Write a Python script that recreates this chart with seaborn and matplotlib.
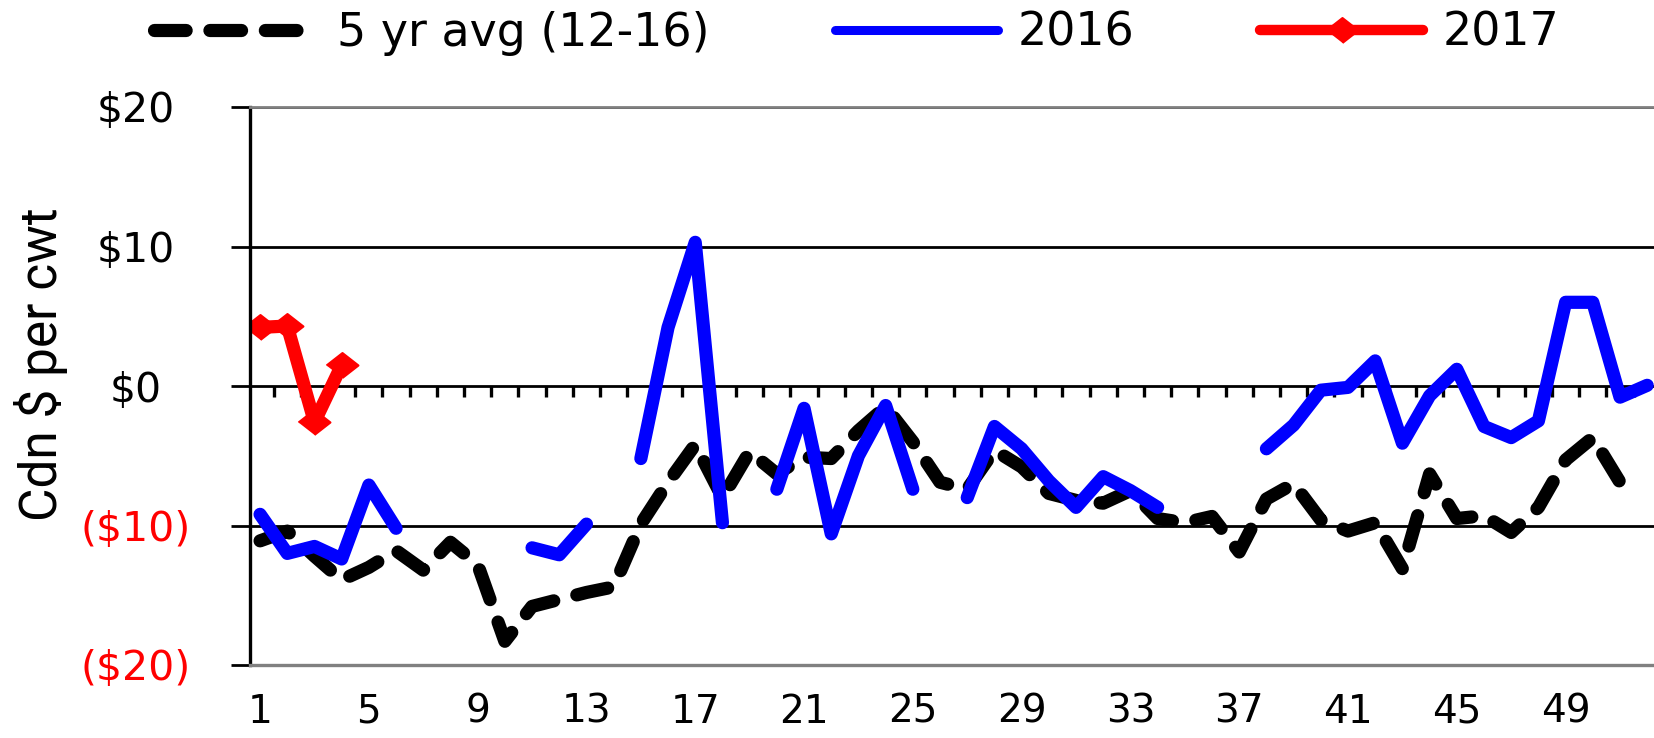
import numpy as np
import pandas as pd
import seaborn as sns
import matplotlib
matplotlib.use('Agg')
import matplotlib.pyplot as plt
from matplotlib.lines import Line2D

# weekly margin data, Cdn $ per cwt
weeks = list(range(1, 53))
avg_5yr = [-11.1, -10.4, -12.2, -13.9, -13.0, -11.8, -13.2, -11.2, -12.8, -18.3,
           -15.8, -15.3, -14.8, -14.4, -9.9, -6.9, -4.2, -8.0, -4.7, -6.3,
           -5.1, -5.2, -3.2, -1.5, -4.0, -6.9, -7.4, -4.6, -5.8, -7.7,
           -8.2, -8.4, -7.5, -9.5, -9.8, -9.35, -11.9, -8.1, -7.0, -9.6,
           -10.4, -9.8, -13.1, -6.3, -9.5, -9.3, -10.5, -8.7, -5.3, -3.7, -6.9]
y2016 = [-9.2, -12.0, -11.5, -12.4, -7.1, -10.2, np.nan, np.nan, np.nan, np.nan,
         -11.6, -12.1, -9.9, np.nan, -5.2, 4.2, 10.3, -9.8, np.nan, -7.4,
         -1.6, -10.6, -5.0, -1.4, -7.4, np.nan, -8.0, -2.9, -4.5, -6.8,
         -8.7, -6.5, -7.5, -8.7, np.nan, np.nan, np.nan, -4.5, -2.8, -0.3,
         -0.1, 1.8, -4.1, -0.7, 1.2, -2.9, -3.7, -2.5, 6.0, 6.0, -0.8, 0.05]
y2017 = [4.2, 4.3, -2.6, 1.5]

series_labels = ['5 yr avg (12-16)', '2016', '2017']
ytick_vals = [-20, -10, 0, 10, 20]
ytick_labels = [r'(\$20)', r'(\$10)', r'\$0', r'\$10', r'\$20']
ytick_colors = ['red', 'red', 'black', 'black', 'black']
xtick_vals = list(range(1, 50, 4))

sns.set_style('white')
plt.rcParams['font.family'] = ['DejaVu Sans']
plt.rcParams['text.color'] = 'black'
plt.rcParams['axes.labelcolor'] = 'black'
plt.rcParams['xtick.color'] = 'black'
plt.rcParams['ytick.color'] = 'black'

df_avg = pd.DataFrame({'week': weeks[:len(avg_5yr)], 'value': avg_5yr})
df16 = pd.DataFrame({'week': weeks, 'value': y2016})
df16['seg'] = df16['value'].isna().cumsum()
df16 = df16.dropna()
df17 = pd.DataFrame({'week': weeks[:len(y2017)], 'value': y2017})

diamond = [(-1, 0), (0, 0.78), (1, 0), (0, -0.78)]
LW = 9.5
DASH = [2.4, 1.8]

fig = plt.figure(figsize=(16.54, 7.38), dpi=100)
ax = fig.add_axes([250 / 1654, 1 - 665 / 738, 1404 / 1654, 558 / 738])

sns.lineplot(data=df_avg, x='week', y='value', color='black',
             estimator=None, legend=False, ax=ax)
avg_line = ax.lines[-1]
avg_line.set_linewidth(LW)
avg_line.set_dashes(DASH)
avg_line.set_dash_capstyle('round')
avg_line.set_dash_joinstyle('round')

n_before = len(ax.lines)
sns.lineplot(data=df16, x='week', y='value', units='seg', estimator=None,
             color='blue', legend=False, ax=ax)
for ln in ax.lines[n_before:]:
    ln.set_linewidth(LW)
    ln.set_solid_capstyle('round')
    ln.set_solid_joinstyle('round')

sns.lineplot(data=df17, x='week', y='value', color='red',
             estimator=None, legend=False, ax=ax)
red_line = ax.lines[-1]
red_line.set_linewidth(LW)
red_line.set_solid_capstyle('round')
red_line.set_solid_joinstyle('round')
red_line.set_marker(diamond)
red_line.set_markersize(23)
red_line.set_markerfacecolor('red')
red_line.set_markeredgecolor('red')
red_line.set_markeredgewidth(1.5)

ax.set_xlim(0.63, 52.25)
ax.set_ylim(-20, 20)
ax.set_xticks(xtick_vals)
ax.set_yticks(ytick_vals)
ax.set_yticklabels(ytick_labels)
for lbl, c in zip(ax.get_yticklabels(), ytick_colors):
    lbl.set_color(c)
    lbl.set_ha('center')

ax.set_axisbelow(True)
ax.grid(axis='y', color='black', lw=2.0)
ax.grid(axis='x', visible=False)

ax.spines['left'].set_color('black')
ax.spines['left'].set_linewidth(2.4)
ax.spines['bottom'].set_color('#808080')
ax.spines['bottom'].set_linewidth(2.4)
ax.spines['top'].set_color('#808080')
ax.spines['top'].set_linewidth(2.0)
ax.spines['right'].set_visible(False)

ax.tick_params(axis='y', left=True, length=14, width=2, color='black',
               direction='out', pad=68, labelsize=29.5)
ax.tick_params(axis='x', bottom=True, length=0, pad=20, labelsize=28,
               labelcolor='black')
ax.set_xlabel('')
ax.set_ylabel('Cdn $ per cwt', fontsize=37, va='center', color='black',
              family=['Roboto', 'DejaVu Sans'])
ax.yaxis.set_label_coords(-0.149, 0.539)

# small ticks hanging from the zero line
sec = ax.secondary_xaxis(0.5)
sec.set_alignment('top')
sec.set_xticks(np.arange(1.5, 52, 1))
sec.tick_params(axis='x', direction='in', length=8, width=2.4, color='black',
                labeltop=False, labelbottom=False)
for sp in sec.spines.values():
    sp.set_visible(False)

handles = [
    Line2D([], [], color='black', lw=LW, dashes=DASH, dash_capstyle='round'),
    Line2D([], [], color='blue', lw=6.5, solid_capstyle='round'),
    Line2D([], [], color='red', lw=7.5, solid_capstyle='round',
           marker=diamond, markersize=23, markeredgecolor='red', markeredgewidth=1.5),
]
fig.legend(handles, series_labels, loc='center', bbox_to_anchor=(0.518, 0.955),
           ncol=3, frameon=False, fontsize=33, handlelength=3.55,
           handletextpad=0.43, columnspacing=2.75, labelcolor='black')

fig.savefig('out.png', dpi=100, facecolor='white')
